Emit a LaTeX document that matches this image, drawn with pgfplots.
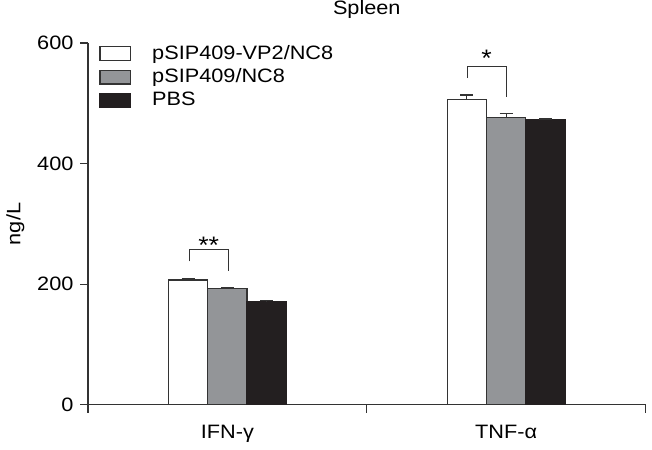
\documentclass[border=0pt]{standalone}
\usepackage{fontspec}
\setmainfont{Liberation Sans}[FakeStretch=1.12]
\usepackage{pgfplots}
\pgfplotsset{compat=1.18}
\definecolor{edge}{HTML}{333333}
\definecolor{barg}{HTML}{939598}
\definecolor{bark}{HTML}{231F20}
\begin{document}
\fontsize{19.5bp}{23bp}\selectfont
\begin{tikzpicture}
\begin{axis}[
  scale only axis,
  width=561bp, height=364bp,
  xmin=0, xmax=2, ymin=0, ymax=600,
  ybar=0pt, bar width=0.141,
  axis lines=left,
  axis line style={-, edge, line width=1.2bp},
  tick align=outside,
  major tick length=8bp,
  tick style={edge, line width=1.2bp},
  ytick={0,200,400,600},
  xtick={0,1,2}, xticklabels={},
  extra x ticks={0.5,1.5},
  extra x tick labels={IFN-γ,TNF-α},
  extra x tick style={major tick length=0pt, xticklabel style={yshift=-14bp}},
  /pgf/number format/assume math mode=true,
  ticklabel style={font=\fontsize{19.5bp}{23bp}\selectfont, text=black},
  ylabel={ng/L},
  ylabel style={at={(axis description cs:0,0.5)}, anchor=center, yshift=73bp, font=\fontsize{19.5bp}{23bp}\selectfont},
  title={Spleen},
  title style={at={(0.5,1)}, anchor=south, inner sep=0pt, yshift=19bp, font=\fontsize{19.5bp}{23bp}\selectfont},
  legend style={at={(0.02,1)}, anchor=north west, draw=none, fill=none, inner sep=0pt,
    row sep=2.5bp, font=\fontsize{19.5bp}{23bp}\selectfont,
    /tikz/every odd column/.style={column sep=19bp}},
  legend cell align=left,
  legend image code/.code={\draw[#1, line width=1.2bp] (0bp,-7bp) rectangle (31bp,7bp);},
  error bars/y dir=plus, error bars/y explicit,
  error bars/error bar style={edge, line width=1.2bp},
  error bars/error mark options={rotate=90, edge, line width=1.2bp, mark size=6.5bp},
]
\addplot[fill=white, draw=edge, line width=1.2bp] coordinates {(0.5,207) +- (0,3) (1.5,506) +- (0,8)};
\addplot[fill=barg, draw=edge, line width=1.2bp] coordinates {(0.5,193) +- (0,2) (1.5,476) +- (0,7)};
\addplot[fill=bark, draw=bark, line width=1.2bp] coordinates {(0.5,171) +- (0,2) (1.5,473) +- (0,1)};
\legend{pSIP409-VP2/NC8, pSIP409/NC8, PBS}
\draw[edge, line width=1.2bp] (axis cs:0.363,238) -- (axis cs:0.363,258) -- (axis cs:0.503,258) -- (axis cs:0.503,222);
\draw[edge, line width=1.2bp] (axis cs:1.360,542) -- (axis cs:1.360,561) -- (axis cs:1.500,561) -- (axis cs:1.500,510);
\node[anchor=base, font=\fontsize{24bp}{26bp}\selectfont] at (axis cs:0.433,251) {**};
\node[anchor=base, font=\fontsize{24bp}{26bp}\selectfont] at (axis cs:1.430,561) {*};
\end{axis}
\end{tikzpicture}
\end{document}
